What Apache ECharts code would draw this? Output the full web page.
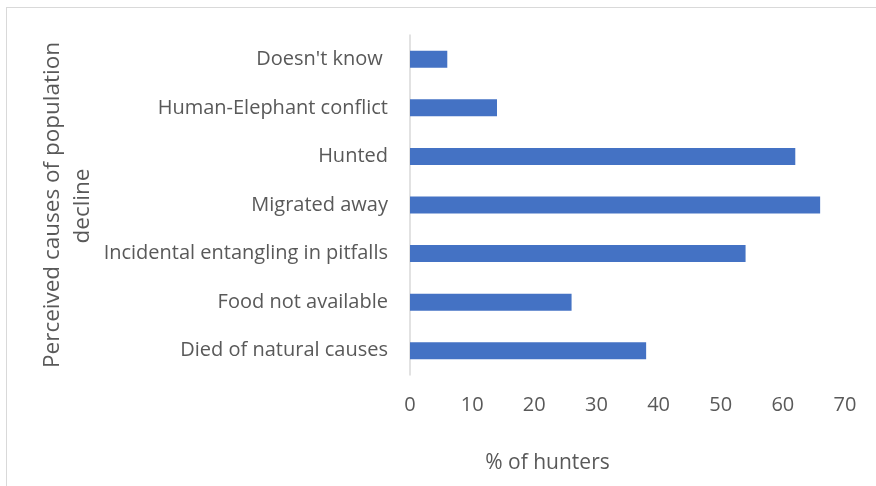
<!DOCTYPE html>
<html><head><meta charset="utf-8">
<script src="https://cdn.jsdelivr.net/npm/echarts@6/dist/echarts.min.js"></script>
<style>html,body{margin:0;padding:0;background:#fff}#c{width:876px;height:486px}</style>
</head><body><div id="c"></div>
<script>
const categories = ["Died of natural causes","Food not available","Incidental entangling in pitfalls","Migrated away","Hunted","Human-Elephant conflict","Doesn't know "];
const values = [38, 26, 54, 66, 62, 14, 6];
const xTicks = {min: 0, max: 70, interval: 10};
const xName = "% of hunters";
const yNameLines = ["Perceived causes of population", "decline"];

const FONT = "Open Sans";
const chart = echarts.init(document.getElementById('c'));
chart.setOption({
  animation: false,
  graphic: [
    {type:'line', shape:{x1:6,y1:7.5,x2:876,y2:7.5}, style:{stroke:'#d9d9d9',lineWidth:1}},
    {type:'line', shape:{x1:6.5,y1:7,x2:6.5,y2:486}, style:{stroke:'#d9d9d9',lineWidth:1}},
    {type:'text', x:53, y:205, rotation:Math.PI/2,
     style:{text:yNameLines[0], font:'22.5px "Open Sans"', fill:'#595959', align:'center', verticalAlign:'middle'}},
    {type:'text', x:83, y:206, rotation:Math.PI/2,
     style:{text:yNameLines[1], font:'22.5px "Open Sans"', fill:'#595959', align:'center', verticalAlign:'middle'}}
  ],
  grid: {left: 410, right: 31, top: 35, bottom: 111, containLabel: false},
  xAxis: {
    type: 'value', min: xTicks.min, max: xTicks.max, interval: xTicks.interval,
    name: xName, nameLocation: 'middle', nameGap: 78,
    nameTextStyle: {fontFamily: FONT, fontSize: 21, color: '#595959', padding: [0, 160, 0, 0]},
    axisLine: {show: false}, axisTick: {show: false}, splitLine: {show: false},
    axisLabel: {fontFamily: FONT, fontSize: 20, color: '#595959', margin: 20}
  },
  yAxis: {
    type: 'category', data: categories,
    axisLine: {show: true, lineStyle: {color: '#d9d9d9', width: 1.5}},
    axisTick: {show: false},
    axisLabel: {fontFamily: FONT, fontSize: 20, color: '#595959', margin: 22}
  },
  series: [{
    type: 'bar', data: values, barCategoryGap: '65%',
    itemStyle: {color: '#4472C4'}
  }]
});
</script></body></html>
